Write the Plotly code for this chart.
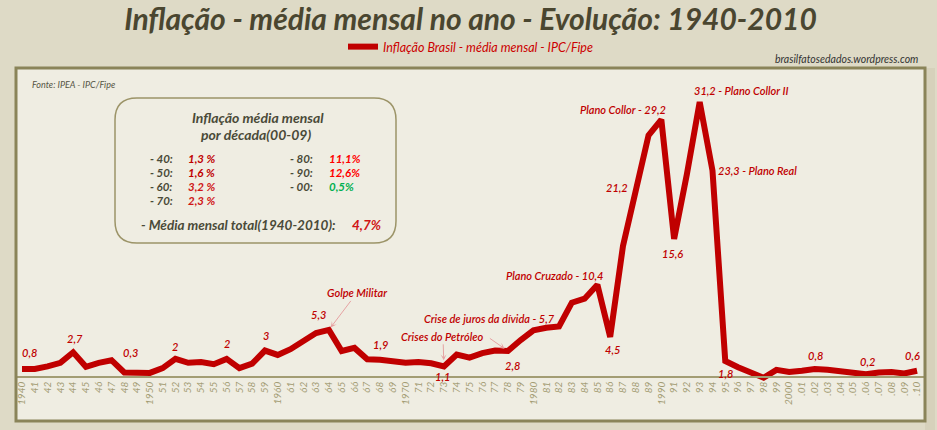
import plotly.graph_objects as go

# ---------------- data ----------------
years = list(range(1940, 2011))
inflation = [
    0.8, 0.8, 1.1, 1.5, 2.7, 1.05, 1.5, 1.8, 0.4, 0.4,          # 1940-49
    0.35, 0.9, 1.95, 1.5, 1.6, 1.35, 1.95, 0.9, 1.4, 2.9,       # 1950-59
    2.4, 3.05, 4.0, 4.9, 5.25, 2.85, 3.2, 1.9, 1.85, 1.7,       # 1960-69
    1.5, 1.6, 1.45, 1.1, 2.45, 2.1, 2.6, 2.9, 2.85, 4.1,        # 1970-79
    5.2, 5.5, 5.65, 8.35, 8.8, 10.4, 4.45, 14.8, 21.2, 27.4,    # 1980-89
    29.2, 15.6, 23.0, 31.2, 23.4, 1.7, 1.0, 0.45, -0.2, 0.7,    # 1990-99
    0.45, 0.6, 0.8, 0.7, 0.5, 0.35, 0.2, 0.4, 0.45, 0.3,        # 2000-09
    0.6,                                                         # 2010
]
tick_labels = (["1940"] + [str(y) for y in range(41, 50)] +
               ["1950"] + [str(y) for y in range(51, 60)] +
               ["1960"] + [str(y) for y in range(61, 70)] +
               ["1970"] + [str(y) for y in range(71, 80)] +
               ["1980"] + [str(y) for y in range(81, 90)] +
               ["1990"] + [str(y) for y in range(91, 100)] +
               ["2000"] + [".%02d" % y for y in range(1, 11)])

point_label_years = [1940, 1944, 1948, 1952, 1956, 1959, 1964, 1968, 1973, 1978,
                     1982, 1985, 1986, 1988, 1990, 1991, 1993, 1994, 1995,
                     2002, 2006, 2010]
point_label_texts = ["0,8", "2,7", "0,3", "2", "2", "3", "5,3", "1,9", "1,1", "2,8",
                     "Crise de juros da dívida - 5,7", "Plano Cruzado - 10,4", "4,5",
                     "21,2", "Plano Collor - 29,2", "15,6", "31,2 - Plano Collor II",
                     "23,3 - Plano Real", "1,8", "0,8", "0,2", "0,6"]

decade_left = ["- 40:", "- 50:", "- 60:", "- 70:"]
decade_left_vals = ["1,3 %", "1,6 %", "3,2 %", "2,3 %"]
decade_right = ["- 80:", "- 90:", "- 00:"]
decade_right_vals = ["11,1%", "12,6%", "0,5%"]
total_label = "- Média mensal total(1940-2010):"
total_value = "4,7%"

# ---------------- style / layout helpers ----------------
W, H = 937, 430
ML, MR, MT, MB = 16, 12, 68, 9
PW, PH = W - ML - MR, H - MT - MB


def px(x):
    return (x - ML) / PW


def py(y):
    return (H - MB - y) / PH


RED = "#c00000"
FONT = "Lato"
val_of = dict(zip(years, inflation))

# per-label placement: (xanchor, xshift, yshift)
label_pos = {
    1940: ("center", 7, 16), 1944: ("center", 2, 14), 1948: ("center", 6, 20),
    1952: ("center", 0, 12), 1956: ("center", 0, 15), 1959: ("center", 1, 15),
    1964: ("center", -10, 15), 1968: ("center", 0, 15), 1973: ("center", -1, -10),
    1978: ("center", 5, -15), 1982: ("right", -2, 8), 1985: ("right", 8, 9),
    1986: ("center", 2, -13), 1988: ("right", -6, 2), 1990: ("right", 7, 10),
    1991: ("center", -2, -14), 1993: ("left", -8, 12), 1994: ("left", 4, 0),
    1995: ("center", 0, -12), 2002: ("center", 1, 13), 2006: ("center", 2, 13),
    2010: ("center", -5, 15),
}

fig = go.Figure()
fig.add_trace(go.Scatter(
    x=years, y=inflation, mode="lines",
    name="Inflação Brasil - média mensal - IPC/Fipe",
    line=dict(color=RED, width=6),
    hoverinfo="skip",
))

lbl_font = dict(family=FONT, size=11, color=RED, style="italic", weight=600)
annotations = []
for yr, txt in zip(point_label_years, point_label_texts):
    xa, xs, ys = label_pos[yr]
    annotations.append(dict(
        x=yr, y=val_of[yr], xref="x", yref="y", text=txt, showarrow=False,
        xanchor=xa, yanchor="middle", xshift=xs, yshift=ys, font=lbl_font,
    ))

arrow_style = dict(showarrow=True, arrowhead=3, arrowsize=1, arrowwidth=1,
                   arrowcolor="#e6a3a3")
annotations.append(dict(
    x=1964, y=val_of[1964], xref="x", yref="y", text="Golpe Militar",
    ax=28, ay=-37, standoff=3, font=lbl_font, **arrow_style))
annotations.append(dict(
    x=1973, y=val_of[1973], xref="x", yref="y", text="Crises do Petróleo",
    ax=-1, ay=-30, standoff=6, font=lbl_font, **arrow_style))
annotations.append(dict(
    x=1978, y=val_of[1978], xref="x", yref="y", text=" ",
    ax=-20, ay=-14, standoff=4,
    font=dict(family=FONT, size=4, color=RED), **arrow_style))

# static texts
annotations.append(dict(
    x=px(920), y=py(59), xref="paper", yref="paper", xanchor="right", yanchor="middle",
    text="brasilfatosedados.wordpress.com", showarrow=False,
    font=dict(family=FONT, size=10.5, color="#333333", style="italic")))
annotations.append(dict(
    x=px(30), y=py(84), xref="paper", yref="paper", xanchor="left", yanchor="middle",
    text="Fonte: IPEA - IPC/Fipe", showarrow=False,
    font=dict(family=FONT, size=9, color="#555544", style="italic")))

# inset box texts
LBL = "#4a4a38"
box_font = dict(family=FONT, size=14, color=LBL, style="italic", weight="bold")
annotations.append(dict(x=px(258), y=py(118), xref="paper", yref="paper",
                        text="Inflação média mensal", showarrow=False,
                        xanchor="center", yanchor="middle", font=box_font))
annotations.append(dict(x=px(256), y=py(134), xref="paper", yref="paper",
                        text="por década(00-09)", showarrow=False,
                        xanchor="center", yanchor="middle", font=box_font))

row_y = [158, 172, 186, 200]
RS = 11.5
left_cols = ["#c00000", "#c00000", "#d01515", "#d01515"]
right_cols = ["#ff0000", "#ff0000", "#00b050"]
for i, (lab, val) in enumerate(zip(decade_left, decade_left_vals)):
    annotations.append(dict(x=px(148), y=py(row_y[i]), xref="paper", yref="paper",
                            text=lab, showarrow=False, xanchor="left", yanchor="middle",
                            font=dict(family=FONT, size=RS, color=LBL, style="italic", weight="bold")))
    annotations.append(dict(x=px(186), y=py(row_y[i]), xref="paper", yref="paper",
                            text=val, showarrow=False, xanchor="left", yanchor="middle",
                            font=dict(family=FONT, size=RS, color=left_cols[i], style="italic", weight="bold")))
for i, (lab, val) in enumerate(zip(decade_right, decade_right_vals)):
    annotations.append(dict(x=px(288), y=py(row_y[i]), xref="paper", yref="paper",
                            text=lab, showarrow=False, xanchor="left", yanchor="middle",
                            font=dict(family=FONT, size=RS, color=LBL, style="italic", weight="bold")))
    annotations.append(dict(x=px(327), y=py(row_y[i]), xref="paper", yref="paper",
                            text=val, showarrow=False, xanchor="left", yanchor="middle",
                            font=dict(family=FONT, size=RS, color=right_cols[i], style="italic", weight="bold")))
annotations.append(dict(x=px(139), y=py(225), xref="paper", yref="paper",
                        text=total_label, showarrow=False, xanchor="left", yanchor="middle",
                        font=dict(family=FONT, size=13.5, color=LBL, style="italic", weight="bold")))
annotations.append(dict(x=px(350), y=py(225), xref="paper", yref="paper",
                        text=total_value, showarrow=False, xanchor="left", yanchor="middle",
                        font=dict(family=FONT, size=13.5, color="#d01515", style="italic", weight="bold")))

# rounded inset box path
bx0, bx1, by0, by1, r = px(115), px(396), py(243), py(98), 22
rx, ry = r / PW, r / PH
box_path = (f"M{bx0+rx},{by1} L{bx1-rx},{by1} Q{bx1},{by1} {bx1},{by1-ry} "
            f"L{bx1},{by0+ry} Q{bx1},{by0} {bx1-rx},{by0} "
            f"L{bx0+rx},{by0} Q{bx0},{by0} {bx0},{by0+ry} "
            f"L{bx0},{by1-ry} Q{bx0},{by1} {bx0+rx},{by1} Z")

shapes = [
    dict(type="rect", xref="paper", yref="paper", x0=1.0, x1=1.0 + 10 / PW, y0=-MB / PH, y1=1.0,
         line=dict(width=0), fillcolor="#d6d1bb", layer="below"),
    dict(type="path", xref="paper", yref="paper", path=box_path,
         line=dict(color="#9c9468", width=1.5), fillcolor="rgba(0,0,0,0)", layer="below"),
    dict(type="rect", xref="paper", yref="paper", x0=0, x1=1, y0=0, y1=1,
         line=dict(color="#8a8459", width=3), layer="above"),
]

x_per_year = PW / 71.09
x_start = 1940 - (22 - ML) / x_per_year
y_scale = 8.78
y_bottom = (376 - (H - MB)) / y_scale
y_top = (376 - MT) / y_scale

fig.update_layout(
    width=W, height=H,
    margin=dict(l=ML, r=MR, t=MT, b=MB, pad=0),
    paper_bgcolor="#dedac6",
    plot_bgcolor="#efede2",
    title=dict(text="Inflação - média mensal no ano - Evolução: 1940-2010",
               x=0.5, xref="paper", xanchor="center", y=1 - 19.5 / H, yanchor="middle",
               font=dict(family=FONT, size=30, color="#4a4630", style="italic", weight="bold")),
    showlegend=True,
    legend=dict(orientation="h", x=0.5, xanchor="center", y=py(47), yanchor="middle",
                bgcolor="rgba(0,0,0,0)",
                font=dict(family=FONT, size=12.5, color="#cc0000", style="italic")),
    xaxis=dict(range=[x_start, x_start + 71.09], anchor="free", position=py(377),
               showline=True, linecolor="#a39d74", linewidth=1.5,
               showgrid=False, zeroline=False, ticks="",
               tickmode="array", tickvals=years, ticktext=tick_labels, tickangle=-90,
               tickfont=dict(family=FONT, size=10, color="#a39c74", style="italic")),
    yaxis=dict(range=[y_bottom, y_top], visible=False, showgrid=False, zeroline=False),
    annotations=annotations,
    shapes=shapes,
)

fig.write_html("out.html")
